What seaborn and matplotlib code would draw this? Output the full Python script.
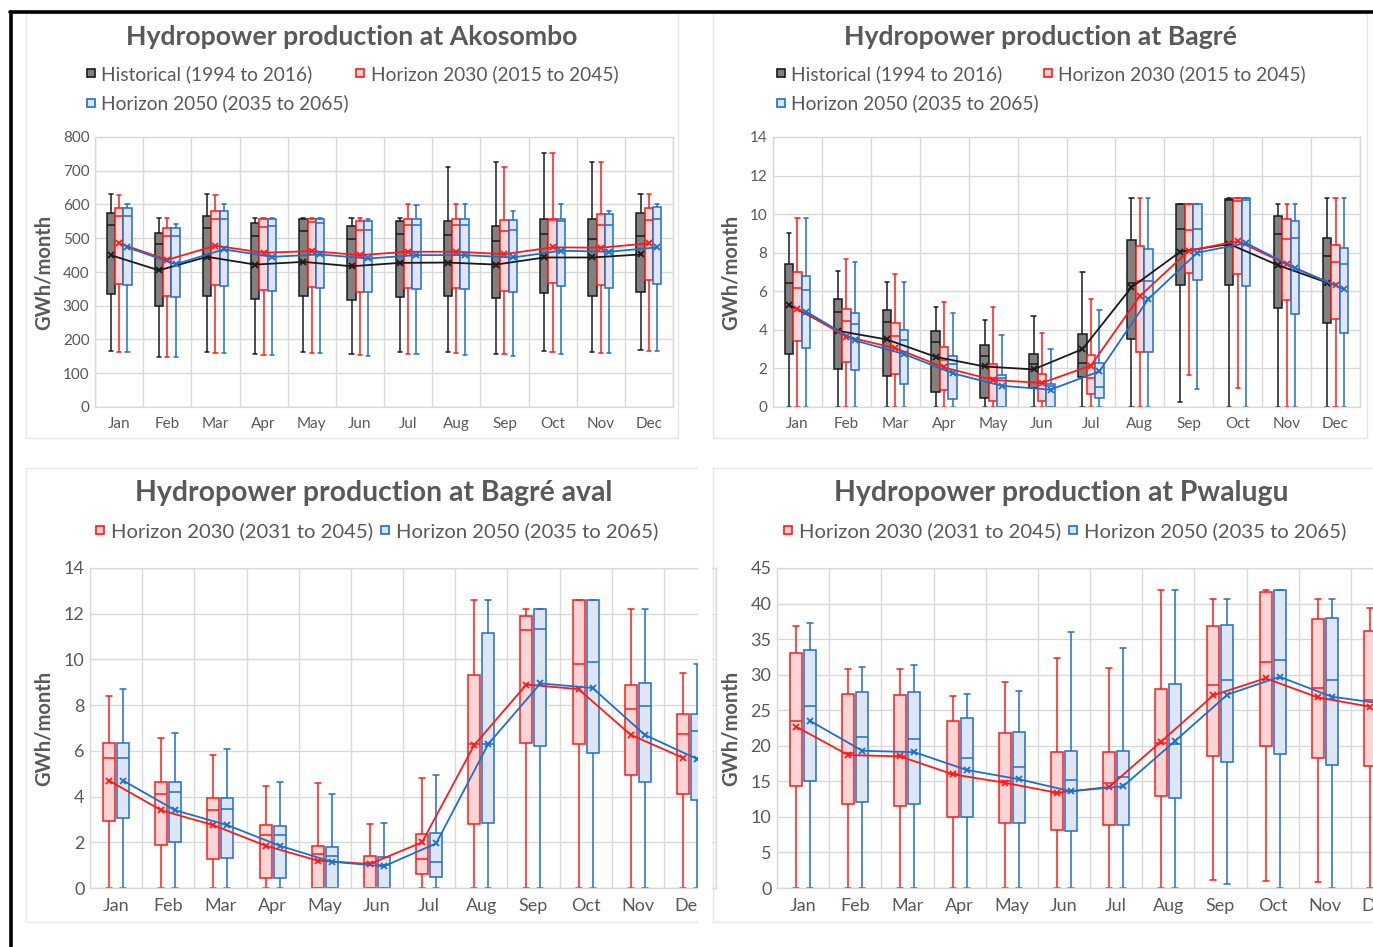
import numpy as np
import pandas as pd
import matplotlib.pyplot as plt
import seaborn as sns
from matplotlib.lines import Line2D

# --- figure geometry (pixels) ---
W, H = 1373, 947

MONTHS = ["Jan", "Feb", "Mar", "Apr", "May", "Jun",
          "Jul", "Aug", "Sep", "Oct", "Nov", "Dec"]

# each month: (min, q1, median, q3, max, mean)  in GWh/month
AKO_HIST = [
    (165, 335, 540, 575, 630, 450), (148, 300, 483, 515, 560, 405),
    (163, 330, 530, 567, 630, 445), (158, 320, 508, 545, 560, 422),
    (162, 328, 520, 557, 560, 430), (158, 316, 498, 535, 560, 417),
    (162, 326, 512, 550, 560, 427), (162, 330, 510, 550, 710, 428),
    (158, 322, 492, 537, 727, 422), (167, 338, 512, 557, 752, 443),
    (163, 330, 497, 557, 727, 443), (168, 340, 508, 575, 630, 452),
]
AKO_H30 = [
    (163, 365, 567, 590, 627, 485), (147, 328, 507, 530, 560, 436),
    (160, 360, 557, 582, 627, 478), (155, 347, 533, 557, 560, 457),
    (160, 355, 548, 557, 560, 462), (153, 342, 523, 550, 560, 450),
    (158, 353, 540, 557, 600, 460), (160, 353, 538, 557, 602, 460),
    (157, 345, 522, 553, 710, 453), (162, 367, 553, 557, 752, 473),
    (160, 362, 540, 572, 727, 472), (165, 376, 555, 590, 630, 485),
]
AKO_H50 = [
    (163, 362, 567, 590, 602, 473), (147, 326, 507, 530, 542, 423),
    (160, 358, 557, 582, 600, 467), (155, 345, 535, 557, 560, 445),
    (160, 353, 545, 557, 560, 452), (152, 341, 525, 550, 557, 440),
    (158, 351, 540, 557, 598, 450), (153, 351, 538, 557, 602, 450),
    (152, 341, 523, 553, 582, 443), (157, 358, 550, 557, 602, 463),
    (160, 352, 540, 573, 582, 460), (165, 365, 557, 592, 602, 473),
]

BAG_HIST = [
    (0, 2.75, 6.45, 7.4, 9.0, 5.3), (0, 1.95, 4.9, 5.6, 7.05, 3.95),
    (0, 1.6, 4.4, 5.05, 6.5, 3.5), (0, 0.8, 3.35, 3.95, 5.2, 2.6),
    (0, 0.45, 2.65, 3.2, 4.5, 2.1), (0, 1.0, 2.25, 2.75, 4.7, 1.95),
    (0, 1.55, 2.3, 3.8, 7.0, 3.0), (0, 3.5, 6.45, 8.65, 10.85, 6.2),
    (0.25, 6.3, 9.25, 10.5, 10.5, 8.05), (0, 6.35, 10.75, 10.8, 10.85, 8.45),
    (0, 5.15, 8.95, 9.9, 10.5, 7.35), (0, 4.35, 7.85, 8.75, 10.85, 6.45),
]
BAG_H30 = [
    (0, 3.4, 6.15, 7.0, 9.8, 5.1), (0, 2.35, 4.45, 5.1, 7.65, 3.65),
    (0, 1.7, 3.7, 4.35, 6.9, 3.05), (0, 0.9, 2.45, 3.1, 5.45, 2.05),
    (0, 0.3, 1.5, 2.25, 5.2, 1.4), (0, 0.3, 1.25, 1.7, 3.85, 1.25),
    (0, 0.65, 1.5, 2.7, 5.6, 2.15), (0, 2.85, 6.55, 8.35, 10.85, 5.75),
    (1.65, 6.95, 9.2, 10.5, 10.5, 8.1), (1.0, 6.9, 10.7, 10.85, 10.85, 8.6),
    (0, 5.55, 8.7, 9.75, 10.5, 7.4), (0, 4.55, 7.5, 8.4, 10.85, 6.3),
]
BAG_H50 = [
    (0, 3.05, 6.05, 6.8, 9.8, 4.95), (0, 1.9, 4.3, 4.85, 7.5, 3.45),
    (0, 1.2, 3.45, 4.0, 6.5, 2.75), (0, 0.4, 2.25, 2.65, 4.85, 1.75),
    (0, 0.0, 1.5, 1.65, 3.75, 1.1), (0, 0.0, 1.1, 1.2, 3.0, 0.9),
    (0, 0.45, 1.05, 2.3, 5.05, 1.85), (0, 2.85, 6.55, 8.2, 10.85, 5.6),
    (0.95, 6.6, 9.25, 10.5, 10.5, 8.0), (0, 6.25, 10.75, 10.85, 10.85, 8.5),
    (0, 4.8, 8.75, 9.65, 10.5, 7.2), (0, 3.85, 7.4, 8.25, 10.85, 6.1),
]

AVAL_H30 = [
    (0, 2.95, 5.7, 6.35, 8.4, 4.7), (0, 1.9, 4.1, 4.65, 6.55, 3.4),
    (0, 1.25, 3.4, 3.95, 5.8, 2.75), (0, 0.45, 2.3, 2.75, 4.45, 1.85),
    (0, 0.0, 1.5, 1.85, 4.6, 1.2), (0, 0.0, 1.1, 1.4, 2.8, 1.05),
    (0, 0.6, 1.25, 2.35, 4.8, 2.0), (0, 2.8, 6.3, 9.3, 12.6, 6.25),
    (0, 6.35, 11.3, 11.9, 12.2, 8.9), (0, 6.3, 9.8, 12.6, 12.6, 8.7),
    (0, 4.95, 7.85, 8.9, 12.2, 6.7), (0, 4.1, 6.75, 7.6, 9.4, 5.7),
]
AVAL_H50 = [
    (0, 3.05, 5.7, 6.35, 8.7, 4.7), (0, 2.0, 4.2, 4.65, 6.8, 3.4),
    (0, 1.3, 3.45, 3.95, 6.1, 2.75), (0, 0.45, 2.3, 2.7, 4.65, 1.85),
    (0, 0.0, 1.4, 1.8, 4.1, 1.15), (0, 0.0, 1.0, 1.35, 2.85, 0.95),
    (0, 0.5, 1.15, 2.4, 4.95, 1.95), (0, 2.85, 6.3, 11.15, 12.6, 6.3),
    (0, 6.2, 11.35, 12.2, 12.2, 8.95), (0, 5.9, 9.9, 12.6, 12.6, 8.75),
    (0, 4.65, 7.95, 8.95, 12.2, 6.7), (0, 3.85, 6.85, 7.6, 9.8, 5.65),
]

PWA_H30 = [
    (0, 14.3, 23.5, 33.0, 36.8, 22.7), (0, 11.8, 19.0, 27.3, 30.8, 18.7),
    (0, 11.6, 18.6, 27.1, 30.8, 18.5), (0, 10.0, 16.0, 23.5, 27.0, 16.0),
    (0, 9.2, 15.0, 21.8, 28.9, 14.8), (0, 8.2, 13.4, 19.1, 32.3, 13.4),
    (0, 8.9, 14.7, 19.1, 30.9, 14.2), (0, 12.9, 20.4, 28.0, 41.9, 20.6),
    (1.1, 18.5, 28.5, 36.8, 40.6, 27.1), (1.0, 19.9, 31.8, 41.6, 41.9, 29.5),
    (0.8, 18.3, 28.1, 37.8, 40.6, 26.8), (0, 17.2, 26.4, 36.2, 39.4, 25.5),
]
PWA_H50 = [
    (0, 15.1, 25.6, 33.4, 37.2, 23.5), (0, 12.1, 21.2, 27.6, 31.1, 19.3),
    (0, 11.8, 21.0, 27.5, 31.3, 19.1), (0, 10.0, 18.3, 23.9, 27.3, 16.6),
    (0, 9.2, 17.0, 22.0, 27.7, 15.3), (0, 8.0, 15.2, 19.3, 36.0, 13.6),
    (0, 8.8, 15.6, 19.2, 33.8, 14.3), (0, 12.6, 20.2, 28.7, 41.9, 20.7),
    (0.6, 17.7, 29.3, 37.0, 40.6, 27.2), (0, 18.9, 32.1, 41.9, 41.9, 29.7),
    (0, 17.3, 29.3, 38.0, 40.6, 26.9), (0, 17.0, 28.5, 38.0, 40.6, 25.9),
]

LABELS_TOP = {"hist": "Historical (1994 to 2016)",
              "h30": "Horizon 2030 (2015 to 2045)",
              "h50": "Horizon 2050 (2035 to 2065)"}
LABELS_BOT = {"h30": "Horizon 2030 (2031 to 2045)",
              "h50": "Horizon 2050 (2035 to 2065)"}

# --- style ---
TEXT = "#595959"
GRID = "#d9d9d9"
FILL = {"hist": "#808080", "h30": "#ffcfcf", "h50": "#d9e6f5"}
EDGE = {"hist": "#1a1a1a", "h30": "#ff1a1a", "h50": "#1f6fc6"}

sns.set_theme(style="white")
plt.rcParams["font.family"] = ["Lato", "DejaVu Sans"]


def rect(l, t, r, b):
    return [l / W, 1 - b / H, (r - l) / W, (b - t) / H]


def long_table(series):
    rows = []
    for key, stats in series:
        for m, s in enumerate(stats):
            for v in s[:5]:
                rows.append((key, m, v))
    return pd.DataFrame(rows, columns=["series", "month", "value"])


def draw_panel(fig, box, series, ymax, ystep, width, gap, fs, ylabel_px):
    l, t, r, b = box
    ax = fig.add_axes(rect(l, t, r, b))
    keys = [k for k, _ in series]
    df = long_table(series)
    for key, _ in series:
        sns.boxplot(data=df[df.series == key], x="month", y="value", hue="series",
                    hue_order=keys, order=list(range(12)), palette=FILL,
                    linecolor=EDGE[key], width=width, gap=gap, dodge=True,
                    whis=(0, 100), linewidth=1.1, showfliers=False,
                    legend=False, ax=ax)
    # mean lines through the box centres
    slot = width / len(keys)
    for i, (key, stats) in enumerate(series):
        xs = np.arange(12) + slot * (i + 0.5) - width / 2
        sns.lineplot(x=xs, y=[s[5] for s in stats], color=EDGE[key], marker="x",
                     markersize=5, markeredgewidth=1.3, markeredgecolor=EDGE[key],
                     linewidth=1.3, ax=ax, zorder=5)

    ax.set_yticks(np.arange(0, ymax + ystep / 2, ystep))
    ax.set_xticks(range(12), MONTHS)
    ax.set_xticks(np.arange(-0.5, 12, 1), minor=True)
    ax.set_xlim(-0.5, 11.5)
    ax.set_ylim(0, ymax)
    ax.set_axisbelow(True)
    ax.grid(axis="y", which="major", color=GRID, lw=1)
    ax.grid(axis="x", which="minor", color=GRID, lw=1)
    ax.grid(axis="x", which="major", visible=False)
    for sp in ax.spines.values():
        sp.set_color(GRID)
        sp.set_linewidth(1)
    ax.tick_params(which="both", length=0, labelcolor=TEXT, labelsize=fs)
    ax.tick_params(axis="y", pad=4)
    ax.tick_params(axis="x", pad=7)
    ax.set_xlabel("")
    ax.set_ylabel("GWh/month", fontsize=14.5, fontweight="bold", color=TEXT)
    ax.yaxis.set_label_coords((ylabel_px - l) / (r - l), 0.5)
    return ax


def handle(key):
    return Line2D([], [], marker="s", linestyle="none", markersize=6,
                  markerfacecolor=FILL[key], markeredgecolor=EDGE[key],
                  markeredgewidth=1.2)


fig = plt.figure(figsize=(W / 100, H / 100), dpi=100)
fig.patch.set_facecolor("white")

# chart-area borders
for (l, t, r, b) in [(26, 13, 678, 438), (713, 13, 1367, 438)]:
    fig.add_artist(plt.Rectangle((l / W, 1 - b / H), (r - l) / W, (b - t) / H,
                                 transform=fig.transFigure, fill=False,
                                 edgecolor="#e6e6e6", lw=1))
for (l, t, r, b) in [(26, 468, 697, 922), (713, 468, 1380, 922)]:
    fig.add_artist(Line2D([r / W, l / W, l / W, r / W],
                          [1 - t / H, 1 - t / H, 1 - b / H, 1 - b / H],
                          transform=fig.transFigure, color="#e6e6e6", lw=1))

top = [("hist", AKO_HIST), ("h30", AKO_H30), ("h50", AKO_H50)]
draw_panel(fig, (95, 137, 673, 407), top, 800, 100, 0.52, 0.0, 11, 54)
top_b = [("hist", BAG_HIST), ("h30", BAG_H30), ("h50", BAG_H50)]
draw_panel(fig, (773, 137, 1360, 407), top_b, 14, 2, 0.52, 0.0, 11, 741)

# the lower two charts are cropped on their right side in the source
bot_a = [("h30", AVAL_H30), ("h50", AVAL_H50)]
draw_panel(fig, (90, 568, 716, 888), bot_a, 14, 2, 0.54, 0.15, 13, 54)
bot_p = [("h30", PWA_H30), ("h50", PWA_H50)]
draw_panel(fig, (777, 568, 1403, 888), bot_p, 45, 5, 0.54, 0.15, 13, 741)
fig.add_artist(plt.Rectangle((698 / W, 0), 14 / W, 1 - 455 / H,
                             transform=fig.transFigure, facecolor="white",
                             edgecolor="none", zorder=10))

# titles
for cx, cy, txt, fsz in [(352, 37, "Hydropower production at Akosombo", 19.2),
                         (1040, 37, "Hydropower production at Bagré", 19.2),
                         (374, 493, "Hydropower production at Bagré aval", 20.4),
                         (1061, 493, "Hydropower production at Pwalugu", 20.4)]:
    fig.text(cx / W, 1 - cy / H, txt, ha="center", va="center",
             fontsize=fsz, fontweight="bold", color=TEXT)

# legends
order_top = ["hist", "h50", "h30"]
for x0, cs in ((85, 0.3), (775, 0.15)):
    fig.legend([handle(k) for k in order_top], [LABELS_TOP[k] for k in order_top],
               loc="upper left", bbox_to_anchor=(x0 / W, 1 - 65 / H), ncol=2,
               frameon=False, fontsize=13.8, handlelength=0.6, handletextpad=0.25,
               columnspacing=cs, labelspacing=0.6, borderpad=0, borderaxespad=0,
               labelcolor=TEXT)
order_bot = ["h30", "h50"]
for cx in (376, 1064):
    fig.legend([handle(k) for k in order_bot], [LABELS_BOT[k] for k in order_bot],
               loc="upper center", bbox_to_anchor=(cx / W, 1 - 522 / H), ncol=2,
               frameon=False, fontsize=14.6, handlelength=0.6, handletextpad=0.25,
               columnspacing=0.3, borderpad=0, borderaxespad=0, labelcolor=TEXT)

# black frame lines along top and left edge
fig.add_artist(Line2D([10 / W, 1], [1 - 12 / H, 1 - 12 / H], color="black",
                      lw=2.6, zorder=11))
fig.add_artist(Line2D([11 / W, 11 / W], [0, 1 - 12 / H], color="black",
                      lw=2.6, zorder=11))

fig.savefig("out.png", dpi=100, facecolor="white")
